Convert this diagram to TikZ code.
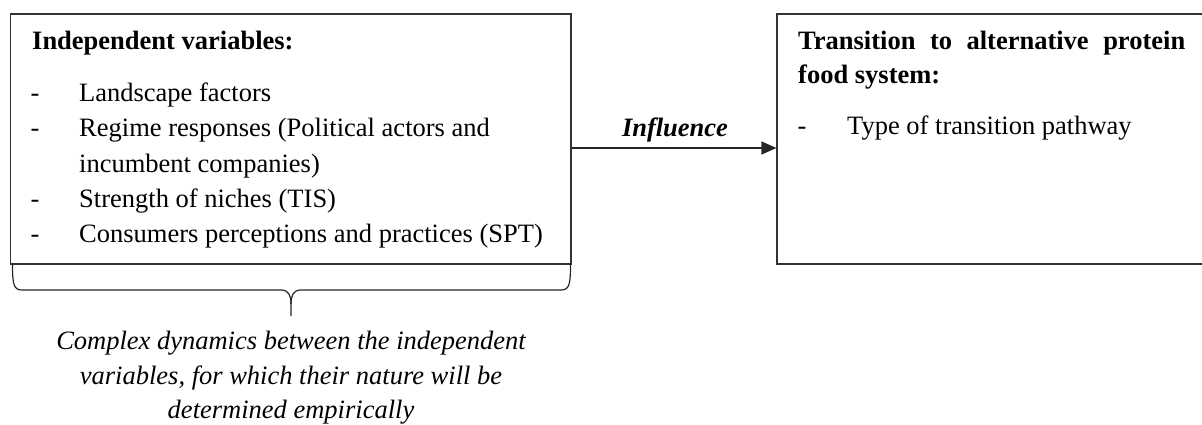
\documentclass[tikz,border=0pt]{standalone}
\usepackage{fontspec}
\setmainfont{Liberation Serif}
\usetikzlibrary{arrows.meta}
\begin{document}
\begin{tikzpicture}[x=1pt,y=-1pt,
  box/.style={draw=black!80, line width=1.2pt, inner sep=0pt},
  txt/.style={anchor=base west, inner sep=0pt, font=\fontsize{26.5}{35}\selectfont},
  boldtxt/.style={txt, font=\fontsize{26.5}{35}\selectfont\bfseries},
  bullet/.style={anchor=base, inner sep=0pt, font=\fontsize{26.5}{35}\selectfont},
  captxt/.style={anchor=base, inner sep=0pt, font=\fontsize{26.5}{35}\selectfont\itshape},
  conn/.style={draw=black!85, line width=1.2pt, -{Triangle[length=15pt,width=13pt]}},
  bracepath/.style={draw=black!85, line width=1.2pt}]
\useasboundingbox (0,0) rectangle (1202,425);
\clip (0,0) rectangle (1202,425);
% boxes
\node[box, minimum width=560.5pt, minimum height=250pt] (lbox) at (290.75,139) {};
\node[box, minimum width=438pt, minimum height=250pt] (rbox) at (996,139) {};
% left box text
\node[boldtxt] (ltitle) at (32,50) {Independent variables:};
\node[bullet] (d1) at (35,101.7) {-};
\node[txt] (i1) at (79,101.7) {Landscape factors};
\node[bullet] (d2) at (35,136.9) {-};
\node[txt] (i2) at (79,136.9) {Regime responses (Political actors and};
\node[txt] (i2b) at (79,172.1) {incumbent companies)};
\node[bullet] (d3) at (35,207.3) {-};
\node[txt] (i3) at (79,207.3) {Strength of niches (TIS)};
\node[bullet] (d4) at (35,242.5) {-};
\node[txt] (i4) at (79,242.5) {Consumers perceptions and practices (SPT)};
% right box text
\node[boldtxt] (rtitle) at (798,50) {\makebox[387pt][s]{Transition to alternative protein}};
\node[boldtxt] (rtitle2) at (798,84) {food system:};
\node[bullet] (rd1) at (802,135) {-};
\node[txt] (ri1) at (847,135) {Type of transition pathway};
% arrow
\draw[conn] ([yshift=-9pt]lbox.east) -- ([yshift=-9pt]rbox.west);
\node[anchor=base, inner sep=0pt, font=\fontsize{26.5}{35}\selectfont\bfseries\itshape] (infl) at (675,137) {Influence};
% brace
\draw[bracepath] (12.5,264) .. controls (12.5,284) and (13.5,290) .. (22,290) -- (281,290)
  .. controls (289,290) and (291,296) .. (291,304) -- (291,316);
\draw[bracepath] (291,304) .. controls (291,296) and (293,290) .. (301,290) -- (561,290)
  .. controls (569.5,290) and (570.5,284) .. (570.5,264);
% caption
\node[captxt] (c1) at (291,349) {Complex dynamics between the independent};
\node[captxt] (c2) at (291,384) {variables, for which their nature will be};
\node[captxt] (c3) at (291,418.5) {determined empirically};
\end{tikzpicture}
\end{document}
